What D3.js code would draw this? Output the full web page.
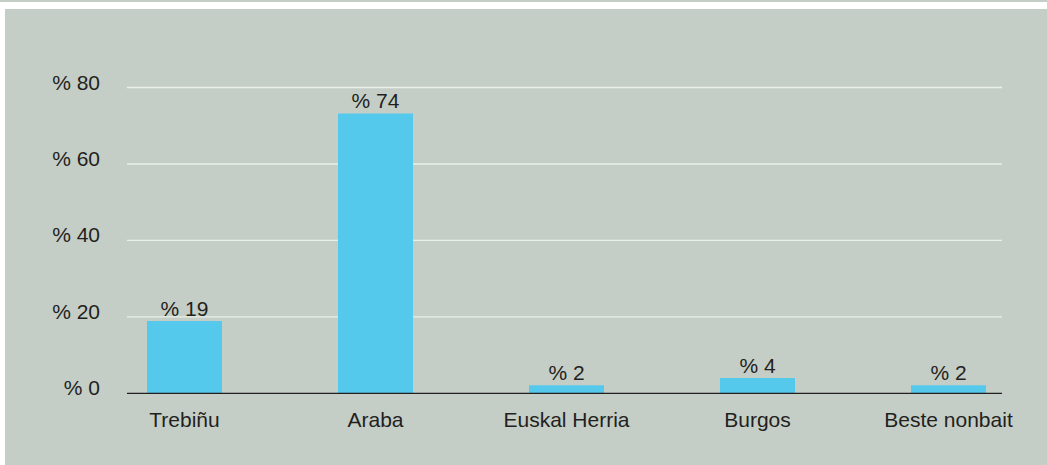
<!DOCTYPE html>
<html>
<head>
<meta charset="utf-8">
<script src="https://cdn.jsdelivr.net/npm/d3@7"></script>
<style>
  html, body { margin: 0; padding: 0; background: #fff; }
  svg { display: block; }
  text { font-family: "Liberation Sans", Arial, sans-serif; fill: #231f20; }
</style>
</head>
<body>
<div id="chart"></div>
<script>
// data
var categories = ["Trebiñu", "Araba", "Euskal Herria", "Burgos", "Beste nonbait"];
var values = [18.9, 73.2, 2.1, 4.0, 2.1];
var valueLabels = ["% 19", "% 74", "% 2", "% 4", "% 2"];
var yTicks = [0, 20, 40, 60, 80];

var W = 1047, H = 465;
var fs = 21;

var svg = d3.select("#chart").append("svg")
  .attr("width", W)
  .attr("height", H);

// top strip + panel
svg.append("rect").attr("x", 0).attr("y", 0).attr("width", W).attr("height", 2).attr("fill", "#c4cec6");
svg.append("rect").attr("x", 5).attr("y", 9).attr("width", W - 5).attr("height", H - 9).attr("fill", "#c4cec6");

var x = d3.scalePoint()
  .domain(categories)
  .range([184.5, 948.5]);

var y = d3.scaleLinear()
  .domain([0, 80])
  .range([393.3, 87.5]);

var barW = 75;
var left = 127, right = 1002;

// gridlines
svg.selectAll("line.grid")
  .data(yTicks.filter(function (d) { return d > 0; }))
  .enter().append("line")
  .attr("class", "grid")
  .attr("x1", left).attr("x2", right)
  .attr("y1", function (d) { return y(d); })
  .attr("y2", function (d) { return y(d); })
  .attr("stroke", "#eaefea")
  .attr("stroke-width", 1.4);

// y tick labels
svg.selectAll("text.ytick")
  .data(yTicks)
  .enter().append("text")
  .attr("class", "ytick")
  .attr("x", 100)
  .attr("y", function (d) { return y(d) + 2; })
  .attr("text-anchor", "end")
  .attr("font-size", fs)
  .text(function (d) { return "% " + d; });

// bars
svg.selectAll("rect.bar")
  .data(values)
  .enter().append("rect")
  .attr("class", "bar")
  .attr("x", function (d, i) { return x(categories[i]) - barW / 2; })
  .attr("y", function (d) { return y(d); })
  .attr("width", barW)
  .attr("height", function (d) { return y(0) - y(d); })
  .attr("fill", "#55c9eb");

// value labels
svg.selectAll("text.val")
  .data(values)
  .enter().append("text")
  .attr("class", "val")
  .attr("x", function (d, i) { return x(categories[i]); })
  .attr("y", function (d) { return y(d) - 5; })
  .attr("text-anchor", "middle")
  .attr("font-size", fs)
  .text(function (d, i) { return valueLabels[i]; });

// x axis line
svg.append("line")
  .attr("x1", left).attr("x2", right)
  .attr("y1", y(0)).attr("y2", y(0))
  .attr("stroke", "#231f20")
  .attr("stroke-width", 1.3);

// category labels
svg.selectAll("text.cat")
  .data(categories)
  .enter().append("text")
  .attr("class", "cat")
  .attr("x", function (d) { return x(d); })
  .attr("y", 426.5)
  .attr("text-anchor", "middle")
  .attr("font-size", fs)
  .text(function (d) { return d; });
</script>
</body>
</html>
